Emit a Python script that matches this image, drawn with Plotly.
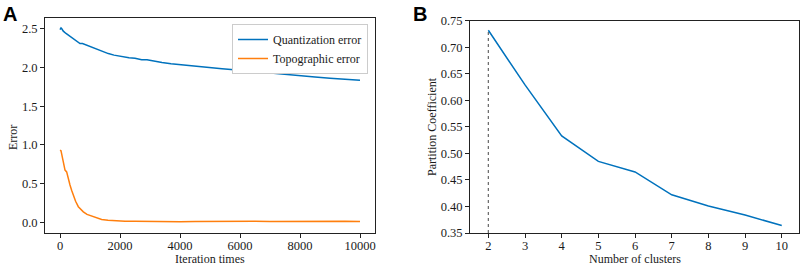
import plotly.graph_objects as go

# Panel A data
iter_q = [0, 33, 60, 110, 200, 333, 450, 550, 667, 750, 833, 1000, 1167, 1300, 1450, 1611, 1800, 2056, 2300, 2500,
          2722, 2900, 3167, 3400, 3700, 4056, 4400, 4700, 5000, 5400, 5800, 6200, 6600, 7000, 7500, 8000, 8500,
          9000, 9500, 10000]
quant_err = [2.49, 2.51, 2.50, 2.47, 2.44, 2.40, 2.37, 2.34, 2.31, 2.31, 2.297, 2.27, 2.245, 2.225, 2.20, 2.18,
             2.16, 2.137, 2.125, 2.12, 2.10, 2.10, 2.08, 2.065, 2.05, 2.035, 2.02, 2.005, 1.995, 1.985, 1.97, 1.955,
             1.94, 1.926, 1.91, 1.893, 1.877, 1.862, 1.847, 1.835]

iter_t = [0, 33, 100, 167, 222, 280, 333, 390, 444, 520, 611, 700, 778, 900, 1056, 1200, 1389, 1600, 1833, 2167,
          2500, 3000, 3500, 4000, 4500, 5000, 5500, 6000, 6500, 7000, 7500, 8000, 8500, 9000, 9500, 10000]
topo_err = [0.93, 0.924, 0.80, 0.674, 0.65, 0.55, 0.48, 0.41, 0.35, 0.27, 0.20, 0.16, 0.133, 0.10, 0.078, 0.06,
            0.035, 0.025, 0.017, 0.013, 0.012, 0.008, 0.006, 0.007, 0.008, 0.010, 0.014, 0.012, 0.011, 0.009,
            0.010, 0.016, 0.018, 0.017, 0.013, 0.008]
iter_ticks = [0, 2000, 4000, 6000, 8000, 10000]
error_ticks = [0.0, 0.5, 1.0, 1.5, 2.0, 2.5]

# Panel B data
n_clusters = [2, 3, 4, 5, 6, 7, 8, 9, 10]
partition_coef = [0.732, 0.629, 0.533, 0.485, 0.465, 0.422, 0.401, 0.384, 0.364]
pc_ticks = [0.35, 0.40, 0.45, 0.50, 0.55, 0.60, 0.65, 0.70, 0.75]

BLUE = "#0072bd"
ORANGE = "#ff7f0e"
FONT = "Liberation Serif"
AXC = "#222222"
TXT = "#1a1a1a"
FS = 12.5
FT = 12

W, H = 803, 266
L, R, T, B = 45, 4, 18, 33
PW, PH = W - L - R, H - T - B


def px_x(p):
    return (p - L) / PW


def px_y(p):
    return (H - B - p) / PH


fig = go.Figure()
fig.add_trace(go.Scatter(x=iter_q, y=quant_err, mode="lines", name="Quantization error",
                         line=dict(color=BLUE, width=1.5), xaxis="x", yaxis="y"))
fig.add_trace(go.Scatter(x=iter_t, y=topo_err, mode="lines", name="Topographic error",
                         line=dict(color=ORANGE, width=1.5), xaxis="x", yaxis="y"))
fig.add_trace(go.Scatter(x=[n_clusters[0], n_clusters[0]], y=[pc_ticks[0], partition_coef[0]], mode="lines",
                         line=dict(color="#666666", width=1.2, dash="dot"), showlegend=False,
                         xaxis="x2", yaxis="y2"))
fig.add_trace(go.Scatter(x=n_clusters, y=partition_coef, mode="lines", showlegend=False,
                         line=dict(color=BLUE, width=1.5), xaxis="x2", yaxis="y2"))


def axis(**kw):
    d = dict(showline=True, linecolor=AXC, linewidth=1, mirror=True, ticks="outside",
             ticklen=4, tickcolor=AXC, tickwidth=1, showgrid=False, zeroline=False, automargin=False,
             tickfont=dict(family=FONT, size=FS, color=TXT))
    d.update(kw)
    return d


def label(text, x, y, angle=0):
    return dict(text=text, x=px_x(x), y=px_y(y), xref="paper", yref="paper", xanchor="center",
                yanchor="middle", textangle=angle, showarrow=False,
                font=dict(family=FONT, size=FT, color=TXT))


fig.update_layout(
    width=W, height=H,
    margin=dict(l=L, r=R, t=T, b=B, autoexpand=False),
    paper_bgcolor="white", plot_bgcolor="white",
    xaxis=axis(domain=[0, px_x(375)], range=[-500, 10500], tickvals=iter_ticks,
               ticktext=[str(v) for v in iter_ticks], anchor="y", ticklabelstandoff=-3),
    yaxis=axis(domain=[0, 1], range=[-0.14, 2.64], tickvals=error_ticks,
               tickformat=".1f", anchor="x"),
    xaxis2=axis(domain=[px_x(470), 1], range=[1.5, 10.47], tickvals=n_clusters, anchor="y2",
                ticklabelstandoff=-3),
    yaxis2=axis(domain=[0, px_y(20.7)], range=[0.35, 0.75],
                tickvals=pc_ticks, tickformat=".2f", anchor="x2"),
    legend=dict(x=px_x(368), y=px_y(24), xanchor="right", yanchor="top",
                bordercolor="#cccccc", borderwidth=1, bgcolor="white", itemwidth=30,
                font=dict(family=FONT, size=FT, color=TXT), tracegroupgap=0),
    showlegend=True,
    annotations=[
        label("Iteration times", 210, 258.5),
        label("Error", 13, 138, -90),
        label("Number of clusters", 635, 258.5),
        label("Partition Coefficient", 432, 127, -90),
        dict(text="<b>A</b>", x=px_x(1), y=px_y(1), xref="paper", yref="paper", xanchor="left", yanchor="top",
             showarrow=False, font=dict(family="Liberation Sans", size=20, color="black")),
        dict(text="<b>B</b>", x=px_x(411), y=px_y(1), xref="paper", yref="paper", xanchor="left", yanchor="top",
             showarrow=False, font=dict(family="Liberation Sans", size=20, color="black")),
    ],
)

fig.write_html("out.html", config={"displayModeBar": False},
               post_script="document.body.style.margin='0';")
